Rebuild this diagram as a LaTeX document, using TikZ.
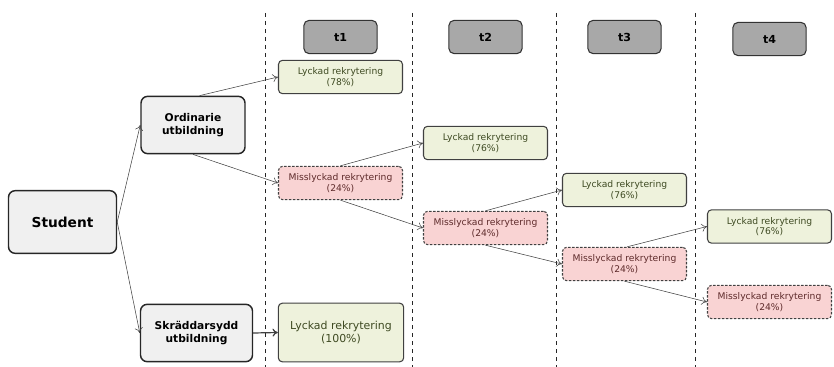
\documentclass[tikz,border=0pt]{standalone}
\usepackage{fontspec}
\setmainfont{DejaVu Sans}
\usetikzlibrary{arrows.meta}

\definecolor{hdrgray}{HTML}{A8A8A8}
\definecolor{boxgray}{HTML}{F0F0F0}
\definecolor{okfill}{HTML}{EEF2DC}
\definecolor{oktext}{HTML}{3E4A22}
\definecolor{failfill}{HTML}{F9D3D3}
\definecolor{failtext}{HTML}{5E2B2B}
\definecolor{linegray}{HTML}{404040}

\begin{document}
\begin{tikzpicture}[x=0.75pt, y=-0.75pt, align=center,
    hdr/.style={draw=black!80, thick, fill=hdrgray, rounded corners=4pt, inner sep=0pt,
      minimum width=55pt, minimum height=25pt, font=\fontsize{8.3}{9}\selectfont\bfseries},
    stage/.style={draw=black!85, line width=1.1pt, fill=boxgray, rounded corners=5pt, inner sep=0pt,
      minimum height=43pt, font=\fontsize{8}{9.8}\selectfont\bfseries},
    okbox/.style={draw=black!75, thick, fill=okfill, text=oktext, rounded corners=3pt, inner sep=0pt,
      minimum width=93pt, minimum height=25pt, font=\fontsize{6.9}{8}\selectfont},
    failbox/.style={okbox, dash pattern=on 1.8pt off 1.2pt, fill=failfill, text=failtext},
    pil/.style={-{To[length=4pt,width=6pt]}, draw=linegray, line width=0.4pt},
    tline/.style={dashed, line width=0.5pt, black!85}]
  \useasboundingbox (0,0) rectangle (834,367);
  %
  \foreach \x in {265,412.5,556.5,695.5}
    \draw[tline] (\x,13) -- (\x,367);
  %
  \node[hdr] (t1) at (340.5,37) {t1};
  \node[hdr] (t2) at (485.5,37) {t2};
  \node[hdr] (t3) at (624.5,37) {t3};
  \node[hdr] (t4) at (769.5,39) {t4};
  %
  \node[stage, minimum width=81pt, minimum height=47pt, font=\fontsize{10.3}{12}\selectfont\bfseries] (student) at (62.5,222) {Student};
  \node[stage, minimum width=78pt] (ord) at (193,125) {Ordinarie\\utbildning};
  \node[stage, minimum width=84pt] (skr) at (196.5,333) {Skräddarsydd\\utbildning};
  %
  \node[okbox] (ok1) at (340.5,77) {Lyckad rekrytering\\(78\%)};
  \node[failbox] (fail1) at (340.5,183) {Misslyckad rekrytering\\(24\%)};
  \node[okbox, minimum width=94pt, minimum height=44pt, font=\fontsize{8.2}{9.8}\selectfont] (okall) at (341,332.5) {Lyckad rekrytering\\(100\%)};
  %
  \node[okbox] (ok2) at (485.5,143) {Lyckad rekrytering\\(76\%)};
  \node[failbox] (fail2) at (485.5,228) {Misslyckad rekrytering\\(24\%)};
  \node[okbox] (ok3) at (624.5,190) {Lyckad rekrytering\\(76\%)};
  \node[failbox] (fail3) at (624.5,264) {Misslyckad rekrytering\\(24\%)};
  \node[okbox] (ok4) at (769.5,226.5) {Lyckad rekrytering\\(76\%)};
  \node[failbox] (fail4) at (769.5,302) {Misslyckad rekrytering\\(24\%)};
  %
  \draw[pil] (student.east) -- (ord.west);
  \draw[pil] (student.east) -- (skr.west);
  \draw[pil] ([xshift=5pt]ord.north) -- (ok1.west);
  \draw[pil] (ord.south) -- (fail1.west);
  \draw[pil, line width=0.9pt] (skr.east) -- (okall.west);
  \draw[pil] (fail1.north) -- (ok2.west);
  \draw[pil] (fail1.south) -- (fail2.west);
  \draw[pil] (fail2.north) -- (ok3.west);
  \draw[pil] (fail2.south) -- (fail3.west);
  \draw[pil] ([xshift=2pt]fail3.north) -- (ok4.west);
  \draw[pil] (fail3.south) -- (fail4.west);
\end{tikzpicture}
\end{document}
